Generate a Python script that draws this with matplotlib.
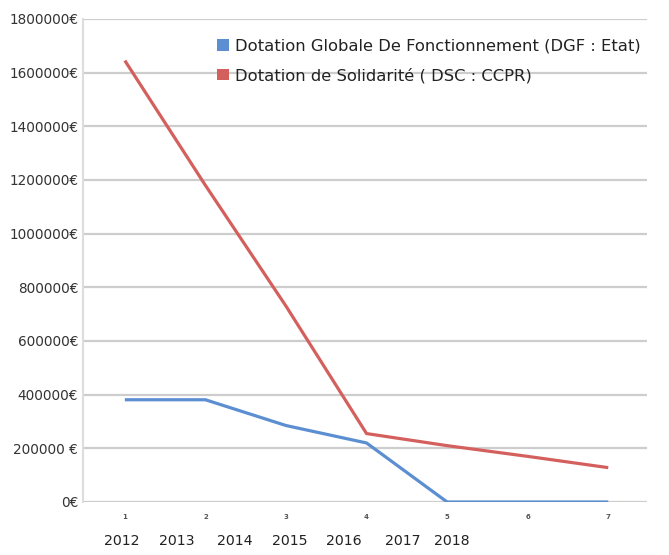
import matplotlib
matplotlib.use("Agg")
import matplotlib.pyplot as plt
from matplotlib.patches import Patch

# ---- data ----
x_index = [1, 2, 3, 4, 5, 6, 7]
x_tick_labels = ["1", "2", "3", "4", "5", "6", "7"]
years = ["2012", "2013", "2014", "2015", "2016", "2017", "2018"]
dgf_values = [381000, 381000, 285000, 220000, 0, 0, 0]
dsc_values = [1645000, 1180000, 730000, 255000, 210000, 170000, 128000]
series_names = ["Dotation Globale De Fonctionnement (DGF : Etat)",
                "Dotation de Solidarité ( DSC : CCPR)"]
y_ticks = [0, 200000, 400000, 600000, 800000, 1000000, 1200000, 1400000, 1600000, 1800000]
y_tick_labels = ["0€", "200000 €", "400000€", "600000€", "800000€", "1000000€",
                 "1200000€", "1400000€", "1600000€", "1800000€"]

# ---- layout / style ----
year_label_x = [0.96, 1.65, 2.37, 3.05, 3.72, 4.45, 5.06]
blue = "#5b8fd2"
red = "#d4605e"
grid_color = "#cdcdcd"

fig = plt.figure(figsize=(6.69, 5.55), dpi=100)
ax = fig.add_axes([0.124, 0.0955, 0.843, 0.8703])

ax.plot(x_index, dgf_values, color=blue, lw=2.3, solid_capstyle="butt", zorder=3)
ax.plot(x_index, dsc_values, color=red, lw=2.3, solid_capstyle="butt", zorder=3)

ax.set_xlim(0.48, 7.48)
ax.set_ylim(0, 1800000)
ax.set_yticks(y_ticks)
ax.set_yticklabels(y_tick_labels)
ax.set_xticks(x_index)
ax.set_xticklabels(x_tick_labels, fontsize=5, fontweight="bold", color="#555555")
ax.tick_params(axis="x", length=0, pad=9)
ax.tick_params(axis="y", length=0, pad=3.5, labelsize=9.8, labelcolor="#333333")

ax.grid(axis="y", color=grid_color, lw=1.6)
ax.set_axisbelow(True)
for s in ["top", "right", "bottom"]:
    ax.spines[s].set_visible(False)
ax.spines["left"].set_color("#dddddd")
ax.spines["left"].set_linewidth(1.5)

for yx, yl in zip(year_label_x, years):
    ax.text(yx, -0.08, yl, transform=ax.get_xaxis_transform(),
            ha="center", va="center", fontsize=10.2, color="#222222")

handles = [Patch(facecolor=blue, edgecolor="none"), Patch(facecolor=red, edgecolor="none")]
fig.legend(handles, series_names, loc="upper left", bbox_to_anchor=(0.325, 0.93),
           frameon=False, fontsize=11.8, handlelength=0.7, handleheight=0.7,
           handletextpad=0.4, labelspacing=0.85, borderaxespad=0, borderpad=0,
           labelcolor="#222222")

fig.savefig("out.png", dpi=100, facecolor="white")
